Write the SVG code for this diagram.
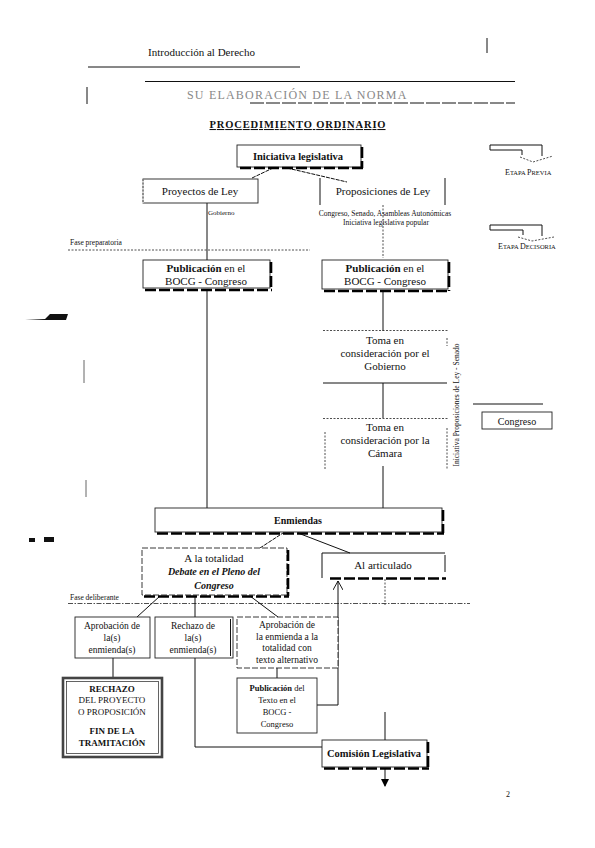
<svg xmlns="http://www.w3.org/2000/svg" width="595" height="848" viewBox="0 0 595 848" font-family="'Liberation Serif','Times New Roman',serif">
<style>
text{font-family:"Liberation Serif","Times New Roman",serif;fill:#111}
.t11{font-size:11px}
.t10{font-size:10px}
.sm{font-size:7px}
.b{font-weight:bold}
.box{fill:#fff;stroke:#222;stroke-width:0.9}
.dbox{fill:#fff;stroke:#222;stroke-width:0.9;stroke-dasharray:6 2}
.sh{stroke:#000;stroke-width:2.6;fill:none;stroke-dasharray:11 3}
.ln{stroke:#111;stroke-width:1;fill:none}
.dl{stroke:#222;stroke-width:0.8;fill:none;stroke-dasharray:2 1.5}
.dd{stroke:#222;stroke-width:0.8;fill:none;stroke-dasharray:5 1.5 1.5 1.5}
</style>
<defs>
<marker id="ah" markerWidth="8" markerHeight="8" refX="7" refY="4" orient="auto" markerUnits="userSpaceOnUse">
<path d="M0,0 L8,4 L0,8 Z" fill="#000"/>
</marker>
<marker id="ao" markerWidth="10" markerHeight="10" refX="9" refY="5" orient="auto" markerUnits="userSpaceOnUse">
<path d="M0,0 L9,5 L0,10" fill="none" stroke="#000" stroke-width="0.9"/>
</marker>
</defs>
<rect width="595" height="848" fill="#fff"/>

<g id="header">
<text x="148" y="56" class="t11">Introducción al Derecho</text>
<line x1="88" y1="67" x2="300" y2="67" class="ln"/>
<line x1="487" y1="38" x2="487" y2="53" class="ln" stroke-width="1.4"/>
<line x1="145" y1="81.5" x2="515" y2="81.5" class="ln"/>
<line x1="87" y1="87" x2="87" y2="104" class="ln" stroke-width="1.6"/>
<text x="187" y="99" font-size="12" style="fill:#888;letter-spacing:1.2px">SU ELABORACIÓN DE LA NORMA</text>
<line x1="250" y1="103" x2="515" y2="103" class="ln" stroke-dasharray="14 2"/>
<text x="297.5" y="128" font-size="10.5" class="b" text-anchor="middle" text-decoration="underline" textLength="176">PROCEDIMIENTO ORDINARIO</text>
<text x="506" y="797" font-size="8">2</text>
</g>

<g id="etapas">
<polyline points="490,145 542,145 542,156" class="ln"/>
<polyline points="490,145 490,150 522,150 522,155" class="ln"/>
<polyline points="520,157 533,162 553,156" class="dl"/>
<text x="505" y="175" font-size="6.5"><tspan font-size="8">E</tspan>TAPA <tspan font-size="8">P</tspan>REVIA</text>
<polyline points="490,225 542,225 542,236" class="ln"/>
<polyline points="490,225 490,230 523,230 523,235" class="ln"/>
<polyline points="518,237 532,241 554,237" class="dl"/>
<text x="498" y="249" font-size="6.5"><tspan font-size="8">E</tspan>TAPA <tspan font-size="8">D</tspan>ECISORIA</text>
</g>

<g id="congreso">
<line x1="473" y1="404" x2="543" y2="404" class="ln"/>
<rect x="482" y="412" width="70" height="17" class="box"/>
<text x="517" y="424.5" class="t10" text-anchor="middle">Congreso</text>
</g>

<g id="fases">
<text x="70" y="245" font-size="7.5">Fase preparatoria</text>
<line x1="68" y1="250" x2="310" y2="250" class="dl" stroke-dasharray="3 1.2"/>
<text x="70" y="600" font-size="7.5">Fase deliberante</text>
<line x1="68" y1="603.5" x2="470" y2="603.5" class="dd"/>
</g>

<g id="connectors">
<line x1="252" y1="178" x2="273" y2="168" class="ln" stroke-dasharray="4 1"/>
<line x1="287" y1="168" x2="347" y2="182" class="ln" stroke-dasharray="4 1"/>
<line x1="207" y1="203" x2="207" y2="260" class="ln"/>
<line x1="207" y1="291" x2="207" y2="508" class="ln"/>
<line x1="383" y1="205" x2="383" y2="258" class="dl"/>
<line x1="383" y1="291" x2="383" y2="331" class="ln"/>
<line x1="383" y1="383" x2="383" y2="418" class="ln"/>
<line x1="383" y1="466" x2="383" y2="508" class="ln"/>
<line x1="260" y1="548" x2="283" y2="533" class="ln" stroke-dasharray="4 1"/>
<line x1="298" y1="533" x2="350" y2="553" class="ln" stroke-width="0.8"/>
<line x1="385" y1="579" x2="385" y2="605" class="dl"/>
<line x1="160" y1="596" x2="137" y2="617" class="ln" stroke-width="0.8"/>
<line x1="195" y1="596" x2="195" y2="617" class="ln"/>
<line x1="250" y1="596" x2="278" y2="617" class="ln" stroke-width="0.8"/>
<line x1="113" y1="658" x2="113" y2="678" class="ln"/>
<polyline points="195,658 195,747 322,747" class="ln"/>
<line x1="277" y1="668" x2="277" y2="678" class="ln"/>
<line x1="317" y1="705" x2="338" y2="705" class="ln"/>
<line x1="338" y1="705" x2="338" y2="581" class="ln" marker-end="url(#ao)"/>
<line x1="385" y1="712" x2="385" y2="740" class="ln"/>
<line x1="385" y1="768" x2="385" y2="786" class="ln" marker-end="url(#ah)"/>
</g>

<g id="iniciativa">
<rect x="237" y="145" width="124" height="22" class="box"/>
<path d="M240,168 H363 M362,147 V168" class="sh"/>
<text x="298" y="160" font-size="10.5" class="b" text-anchor="middle">Iniciativa legislativa</text>
</g>

<g id="proyectos">
<rect x="143" y="179" width="115" height="24" class="box"/>
<line x1="143" y1="179" x2="143" y2="203" stroke="#fff" stroke-width="1.2"/>
<line x1="143" y1="179" x2="143" y2="203" class="dl"/>
<text x="200" y="195" class="t11" text-anchor="middle">Proyectos de Ley</text>
<text x="208" y="215" class="sm">Gobierno</text>
</g>

<g id="proposiciones">
<line x1="320" y1="178" x2="320" y2="205" class="ln"/>
<line x1="445" y1="178" x2="445" y2="205" class="ln"/>
<text x="383" y="195" class="t11" text-anchor="middle">Proposiciones de Ley</text>
<text x="385" y="216" font-size="7.5" text-anchor="middle">Congreso, Senado, Asambleas Autonómicas</text>
<text x="386" y="225" font-size="7.5" text-anchor="middle">Iniciativa legislativa popular</text>
</g>

<g id="pub1">
<rect x="143" y="260" width="127" height="28" class="box"/>
<path d="M145,290 H272 M271,262 V290" class="sh"/>
<text x="206" y="272" class="t11" text-anchor="middle"><tspan class="b">Publicación</tspan> en el</text>
<text x="206" y="285" class="t11" text-anchor="middle">BOCG - Congreso</text>
</g>

<g id="pub2">
<rect x="322" y="260" width="126" height="29" class="box"/>
<path d="M324,291 H450 M449,262 V291" class="sh"/>
<text x="385" y="272" class="t11" text-anchor="middle"><tspan class="b">Publicación</tspan> en el</text>
<text x="385" y="285" class="t11" text-anchor="middle">BOCG - Congreso</text>
</g>

<g id="toma1">
<line x1="323" y1="330.5" x2="448" y2="330.5" class="dl" stroke-dasharray="4 2"/>
<line x1="323" y1="383" x2="447" y2="383" class="ln"/>
<line x1="447" y1="338" x2="447" y2="346" class="dl"/>
<text x="385" y="344" class="t11" text-anchor="middle">Toma en</text>
<text x="385" y="357" class="t11" text-anchor="middle">consideración por el</text>
<text x="385" y="370" class="t11" text-anchor="middle">Gobierno</text>
</g>

<g id="toma2">
<line x1="323" y1="418.5" x2="448" y2="418.5" class="dl" stroke-dasharray="4 2"/>
<line x1="325" y1="432" x2="325" y2="470" class="dl"/>
<line x1="447" y1="428" x2="447" y2="470" class="dl" stroke-dasharray="1 6"/>
<text x="385" y="431" class="t11" text-anchor="middle">Toma en</text>
<text x="385" y="444" class="t11" text-anchor="middle">consideración por la</text>
<text x="385" y="457" class="t11" text-anchor="middle">Cámara</text>
</g>

<g id="lateral">
<text transform="translate(459,405) rotate(-90)" font-size="7.5" text-anchor="middle">Iniciativa Proposiciones de Ley - Senado</text>
</g>

<g id="enmiendas">
<rect x="155" y="508" width="287" height="24" class="box"/>
<path d="M157,533.5 H444 M443,510 V533" class="sh"/>
<text x="298" y="524" font-size="10" class="b" text-anchor="middle">Enmiendas</text>
</g>

<g id="totalidad">
<rect x="142" y="548" width="145" height="47" class="dbox"/>
<path d="M144,596.5 H289 M288,550 V596" class="sh"/>
<text x="214" y="562" class="t11" text-anchor="middle">A la totalidad</text>
<text x="214" y="575" class="t10 b" font-style="italic" text-anchor="middle">Debate en el Pleno del</text>
<text x="214" y="589" class="t10 b" font-style="italic" text-anchor="middle">Congreso</text>
</g>

<g id="articulado">
<polyline points="322,578 322,553 445,553" class="ln" stroke-width="0.8"/>
<line x1="445" y1="555" x2="445" y2="572" class="ln" stroke-width="2"/>
<line x1="330" y1="578.5" x2="446" y2="578.5" class="sh" stroke-dasharray="10 8" stroke-width="2.2"/>
<text x="383" y="569" class="t11" text-anchor="middle">Al articulado</text>
</g>

<g id="aprob1">
<rect x="75" y="617" width="75" height="41" class="box" stroke-width="1.3"/>
<text x="112" y="629" font-size="9.5" text-anchor="middle">Aprobación de</text>
<text x="112" y="641" font-size="9.5" text-anchor="middle">la(s)</text>
<text x="112" y="653" font-size="9.5" text-anchor="middle">enmienda(s)</text>
</g>

<g id="rechazo1">
<rect x="155" y="617" width="78" height="41" class="box" stroke-width="1.3"/>
<line x1="230.5" y1="619" x2="230.5" y2="656" class="ln" stroke-width="0.6"/>
<text x="193" y="629" font-size="9.5" text-anchor="middle">Rechazo de</text>
<text x="193" y="641" font-size="9.5" text-anchor="middle">la(s)</text>
<text x="193" y="653" font-size="9.5" text-anchor="middle">enmienda(s)</text>
</g>

<g id="aprob2">
<rect x="237" y="617" width="101" height="51" class="dbox"/>
<text x="287" y="628" font-size="9.5" text-anchor="middle">Aprobación de</text>
<text x="287" y="640" font-size="9.5" text-anchor="middle">la enmienda a la</text>
<text x="287" y="651" font-size="9.5" text-anchor="middle">totalidad con</text>
<text x="287" y="663" font-size="9.5" text-anchor="middle">texto alternativo</text>
</g>

<g id="rechazo-fin">
<rect x="63" y="678" width="99" height="79" fill="#fff" stroke="#444" stroke-width="2.6"/>
<rect x="66.5" y="681.5" width="92" height="72" fill="none" stroke="#222" stroke-width="0.7"/>
<text x="112" y="692" font-size="9" class="b" text-anchor="middle">RECHAZO</text>
<text x="112" y="703" font-size="9" text-anchor="middle">DEL PROYECTO</text>
<text x="112" y="715" font-size="9" text-anchor="middle">O PROPOSICIÓN</text>
<text x="112" y="734" font-size="9" class="b" text-anchor="middle">FIN DE LA</text>
<text x="112" y="746" font-size="9" class="b" text-anchor="middle">TRAMITACIÓN</text>
</g>

<g id="pub3">
<rect x="237" y="678" width="80" height="55" class="box"/>
<text x="277" y="691" font-size="8.5" text-anchor="middle"><tspan class="b">Publicación</tspan> del</text>
<text x="277" y="703" font-size="8.5" text-anchor="middle">Texto en el</text>
<text x="277" y="715" font-size="8.5" text-anchor="middle">BOCG -</text>
<text x="277" y="727" font-size="8.5" text-anchor="middle">Congreso</text>
</g>

<g id="comision">
<rect x="322" y="740" width="105" height="27" class="box"/>
<path d="M324,768.5 H429 M428,742 V768" class="sh"/>
<text x="374" y="757" font-size="10.5" class="b" text-anchor="middle">Comisión Legislativa</text>
</g>

<g id="marks">
<path d="M25,320 L45,319 L50,314 L68,314 L66,320 Z" fill="#111"/>
<line x1="84" y1="360" x2="84" y2="383" stroke="#666" stroke-width="1"/>
<line x1="86" y1="480" x2="86" y2="497" stroke="#666" stroke-width="1"/>
<rect x="29" y="538" width="6" height="4" fill="#111"/>
<rect x="44" y="537" width="10" height="5" fill="#111"/>
</g>
</svg>
